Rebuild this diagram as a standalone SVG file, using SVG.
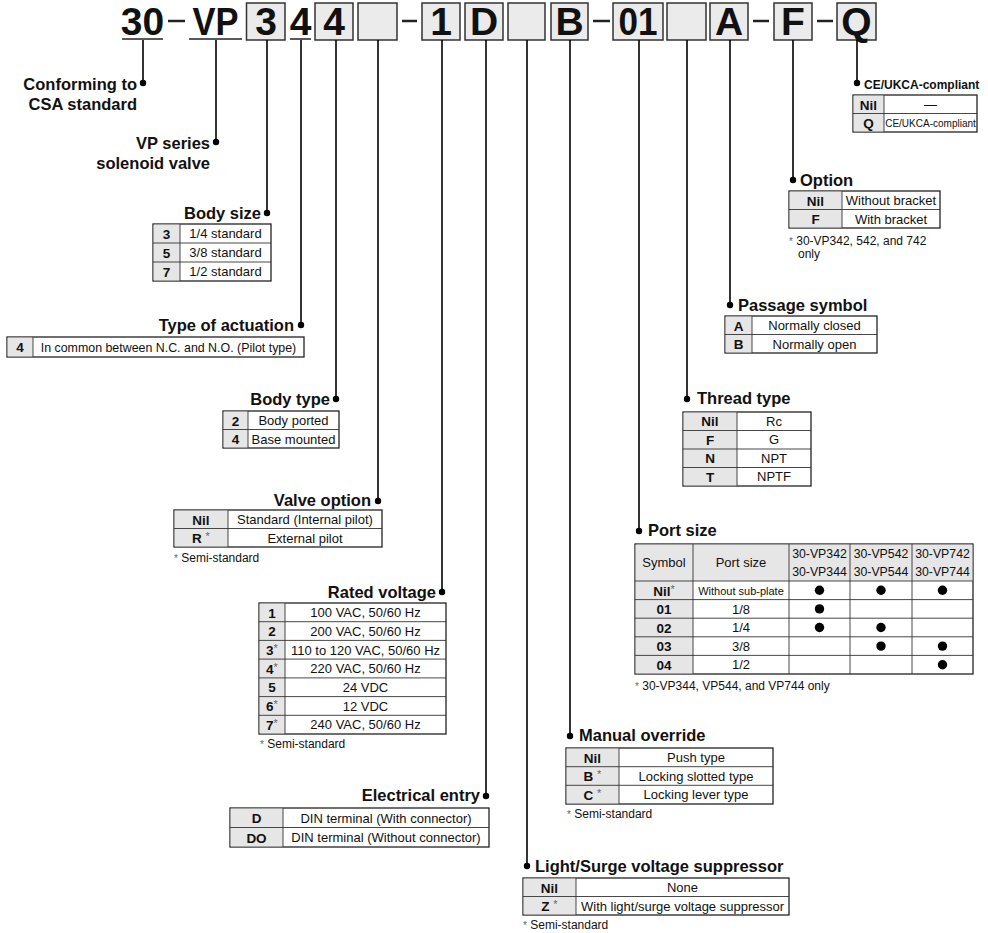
<svg xmlns="http://www.w3.org/2000/svg" width="988" height="933" viewBox="0 0 988 933">
<style>
text{font-family:"Liberation Sans",Arial,Helvetica,sans-serif;fill:#111}
.hd{font-size:39px;font-weight:bold;text-anchor:middle}
.hbox{fill:#ebebeb;stroke:#333;stroke-width:1.5}
.ul{stroke:#222;stroke-width:1.5}
.dash{stroke:#222;stroke-width:2.5}
.conn line{stroke:#000;stroke-width:1.6}
.conn circle{fill:#000}
.ttl{font-size:16.5px;font-weight:bold}
.end{text-anchor:end}
.tb{fill:#fff;stroke:#222;stroke-width:1.3}
.kc{fill:#e6e6e6}
.gl{stroke:#333;stroke-width:0.9}
.k{font-size:13.5px;font-weight:bold;text-anchor:middle}
.v{font-size:13px;text-anchor:middle}
.fn{font-size:12px}
.st{font-size:11px;font-weight:normal;fill:#666}
.dot{fill:#000}
</style>

<g id="header">
<text class="hd" x="142.5" y="35">30</text>
<line class="ul" x1="122" y1="39" x2="163" y2="39"/>
<line class="dash" x1="168" y1="21" x2="185" y2="21"/>
<text class="hd" x="215.5" y="35" textLength="46" lengthAdjust="spacingAndGlyphs">VP</text>
<line class="ul" x1="189" y1="39" x2="242" y2="39"/>
<rect class="hbox" x="246.5" y="3" width="38.5" height="37"/>
<text class="hd" x="266" y="35">3</text>
<text class="hd" x="300.5" y="35">4</text>
<line class="ul" x1="290" y1="39" x2="311" y2="39"/>
<rect class="hbox" x="315" y="3" width="38" height="37"/>
<text class="hd" x="334" y="35">4</text>
<rect class="hbox" x="358" y="3" width="39" height="37"/>
<line class="dash" x1="402" y1="21" x2="417" y2="21"/>
<rect class="hbox" x="422" y="3" width="38" height="37"/>
<text class="hd" x="441" y="35">1</text>
<rect class="hbox" x="465" y="3" width="38" height="37"/>
<text class="hd" x="484" y="35">D</text>
<rect class="hbox" x="508" y="3" width="37" height="37"/>
<rect class="hbox" x="551" y="3" width="37" height="37"/>
<text class="hd" x="569.5" y="35">B</text>
<line class="dash" x1="593" y1="21" x2="610" y2="21"/>
<rect class="hbox" x="613" y="3" width="50" height="37"/>
<text class="hd" x="638" y="35" textLength="39" lengthAdjust="spacingAndGlyphs">01</text>
<rect class="hbox" x="667" y="3" width="39" height="37"/>
<rect class="hbox" x="710" y="3" width="38" height="37"/>
<text class="hd" x="729" y="35">A</text>
<line class="dash" x1="753" y1="21" x2="769" y2="21"/>
<rect class="hbox" x="774" y="3" width="38" height="37"/>
<text class="hd" x="793" y="35">F</text>
<line class="dash" x1="817" y1="21" x2="833" y2="21"/>
<rect class="hbox" x="837" y="3" width="39" height="37"/>
<text class="hd" x="856.5" y="35">Q</text>
</g>

<g id="connectors" class="conn">
<line x1="143" y1="40" x2="143" y2="83"/><circle cx="143" cy="83" r="3.2"/>
<line x1="216" y1="40" x2="216" y2="142"/><circle cx="216" cy="142" r="3.2"/>
<line x1="267" y1="40" x2="267" y2="213"/><circle cx="267" cy="213" r="3.2"/>
<line x1="301" y1="40" x2="301" y2="325"/><circle cx="301" cy="325" r="3.2"/>
<line x1="336" y1="40" x2="336" y2="399"/><circle cx="336" cy="399" r="3.2"/>
<line x1="378" y1="40" x2="378" y2="501"/><circle cx="378" cy="501" r="3.2"/>
<line x1="442" y1="40" x2="442" y2="592"/><circle cx="442" cy="592" r="3.2"/>
<line x1="486" y1="40" x2="486" y2="796"/><circle cx="486" cy="796" r="3.2"/>
<line x1="527" y1="40" x2="527" y2="866"/><circle cx="527" cy="866" r="3.2"/>
<line x1="570" y1="40" x2="570" y2="736"/><circle cx="570" cy="736" r="3.2"/>
<line x1="639" y1="40" x2="639" y2="531"/><circle cx="639" cy="531" r="3.2"/>
<line x1="687" y1="40" x2="687" y2="399"/><circle cx="687" cy="399" r="3.2"/>
<line x1="730" y1="40" x2="730" y2="305"/><circle cx="730" cy="305" r="3.2"/>
<line x1="793" y1="40" x2="793" y2="180"/><circle cx="793" cy="180" r="3.2"/>
<line x1="857" y1="40" x2="857" y2="83"/><circle cx="857" cy="83" r="3.2"/>
</g>

<g id="csa">
<text class="ttl end" x="137" y="90">Conforming to</text>
<text class="ttl end" x="137" y="110">CSA standard</text>
</g>

<g id="vp-series">
<text class="ttl end" x="210" y="149">VP series</text>
<text class="ttl end" x="210" y="169">solenoid valve</text>
</g>

<g id="body-size">
<text class="ttl end" x="261" y="219">Body size</text>
<rect class="tb" x="153" y="224" width="118" height="57"/>
<rect class="kc" x="153.6" y="224.6" width="26.4" height="55.8"/>
<line class="gl" x1="180" y1="224" x2="180" y2="281"/>
<line class="gl" x1="153" y1="243" x2="271" y2="243"/>
<line class="gl" x1="153" y1="262" x2="271" y2="262"/>
<text class="k" x="166.5" y="238.5">3</text><text class="v" x="225.5" y="238">1/4 standard</text>
<text class="k" x="166.5" y="257.5">5</text><text class="v" x="225.5" y="257">3/8 standard</text>
<text class="k" x="166.5" y="276.5">7</text><text class="v" x="225.5" y="276">1/2 standard</text>
</g>

<g id="actuation">
<text class="ttl end" x="294" y="331">Type of actuation</text>
<rect class="tb" x="7" y="337" width="297" height="20"/>
<rect class="kc" x="7.6" y="337.6" width="25.4" height="18.8"/>
<line class="gl" x1="33" y1="337" x2="33" y2="357"/>
<text class="k" x="20" y="352">4</text>
<text class="v" x="168.5" y="351.5" style="font-size:12.4px">In common between N.C. and N.O. (Pilot type)</text>
</g>

<g id="body-type">
<text class="ttl end" x="330" y="405">Body type</text>
<rect class="tb" x="223" y="411" width="116" height="37"/>
<rect class="kc" x="223.6" y="411.6" width="24.4" height="35.8"/>
<line class="gl" x1="248" y1="411" x2="248" y2="448"/>
<line class="gl" x1="223" y1="429.5" x2="339" y2="429.5"/>
<text class="k" x="235.5" y="425.5">2</text><text class="v" x="293.5" y="425">Body ported</text>
<text class="k" x="235.5" y="444">4</text><text class="v" x="293.5" y="443.5">Base mounted</text>
</g>

<g id="valve-option">
<text class="ttl end" x="371" y="506">Valve option</text>
<rect class="tb" x="174" y="510" width="208" height="37"/>
<rect class="kc" x="174.6" y="510.6" width="53.4" height="35.8"/>
<line class="gl" x1="228" y1="510" x2="228" y2="547"/>
<line class="gl" x1="174" y1="528.5" x2="382" y2="528.5"/>
<text class="k" x="201" y="524.5">Nil</text><text class="v" x="305" y="524">Standard (Internal pilot)</text>
<text class="k" x="201" y="543">R <tspan class="st" dy="-3">*</tspan></text><text class="v" x="305" y="542.5">External pilot</text>
<text class="fn" x="174" y="562"><tspan class="st" style="font-size:10px">*</tspan> Semi-standard</text>
</g>

<g id="rated-voltage">
<text class="ttl end" x="436" y="598">Rated voltage</text>
<rect class="tb" x="259" y="603" width="187" height="131"/>
<rect class="kc" x="259.6" y="603.6" width="25.4" height="129.8"/>
<line class="gl" x1="285" y1="603" x2="285" y2="734"/>
<line class="gl" x1="259" y1="621.7" x2="446" y2="621.7"/>
<line class="gl" x1="259" y1="640.4" x2="446" y2="640.4"/>
<line class="gl" x1="259" y1="659.1" x2="446" y2="659.1"/>
<line class="gl" x1="259" y1="677.9" x2="446" y2="677.9"/>
<line class="gl" x1="259" y1="696.6" x2="446" y2="696.6"/>
<line class="gl" x1="259" y1="715.3" x2="446" y2="715.3"/>
<text class="k" x="272" y="617.5">1</text><text class="v" x="365.5" y="617">100 VAC, 50/60 Hz</text>
<text class="k" x="272" y="636">2</text><text class="v" x="365.5" y="635.5">200 VAC, 50/60 Hz</text>
<text class="k" x="272" y="655">3<tspan class="st" dy="-3">*</tspan></text><text class="v" x="365.5" y="654.5">110 to 120 VAC, 50/60 Hz</text>
<text class="k" x="272" y="673.5">4<tspan class="st" dy="-3">*</tspan></text><text class="v" x="365.5" y="673">220 VAC, 50/60 Hz</text>
<text class="k" x="272" y="692">5</text><text class="v" x="365.5" y="691.5">24 VDC</text>
<text class="k" x="272" y="711">6<tspan class="st" dy="-3">*</tspan></text><text class="v" x="365.5" y="710.5">12 VDC</text>
<text class="k" x="272" y="729.5">7<tspan class="st" dy="-3">*</tspan></text><text class="v" x="365.5" y="729">240 VAC, 50/60 Hz</text>
<text class="fn" x="260" y="748"><tspan class="st" style="font-size:10px">*</tspan> Semi-standard</text>
</g>

<g id="electrical-entry">
<text class="ttl end" x="480" y="801">Electrical entry</text>
<rect class="tb" x="230" y="808" width="259" height="39"/>
<rect class="kc" x="230.6" y="808.6" width="52.4" height="37.8"/>
<line class="gl" x1="283" y1="808" x2="283" y2="847"/>
<line class="gl" x1="230" y1="827.5" x2="489" y2="827.5"/>
<text class="k" x="256.5" y="823">D</text><text class="v" x="386" y="822.5">DIN terminal (With connector)</text>
<text class="k" x="256.5" y="842.5">DO</text><text class="v" x="386" y="842">DIN terminal (Without connector)</text>
</g>

<g id="manual-override">
<text class="ttl" x="579" y="741">Manual override</text>
<rect class="tb" x="566" y="748" width="207" height="56"/>
<rect class="kc" x="566.6" y="748.6" width="52.4" height="54.8"/>
<line class="gl" x1="619" y1="748" x2="619" y2="804"/>
<line class="gl" x1="566" y1="766.7" x2="773" y2="766.7"/>
<line class="gl" x1="566" y1="785.3" x2="773" y2="785.3"/>
<text class="k" x="592.5" y="762.5">Nil</text><text class="v" x="696" y="762">Push type</text>
<text class="k" x="592.5" y="781">B <tspan class="st" dy="-3">*</tspan></text><text class="v" x="696" y="780.5">Locking slotted type</text>
<text class="k" x="592.5" y="799.5">C <tspan class="st" dy="-3">*</tspan></text><text class="v" x="696" y="799">Locking lever type</text>
<text class="fn" x="567" y="818"><tspan class="st" style="font-size:10px">*</tspan> Semi-standard</text>
</g>

<g id="light-surge">
<text class="ttl" x="535" y="872">Light/Surge voltage suppressor</text>
<rect class="tb" x="523" y="878" width="266" height="37"/>
<rect class="kc" x="523.6" y="878.6" width="52.4" height="35.8"/>
<line class="gl" x1="576" y1="878" x2="576" y2="915"/>
<line class="gl" x1="523" y1="896.5" x2="789" y2="896.5"/>
<text class="k" x="549.5" y="892.5">Nil</text><text class="v" x="682.5" y="892">None</text>
<text class="k" x="549.5" y="911">Z <tspan class="st" dy="-3">*</tspan></text><text class="v" x="682.5" y="910.5">With light/surge voltage suppressor</text>
<text class="fn" x="523" y="929"><tspan class="st" style="font-size:10px">*</tspan> Semi-standard</text>
</g>

<g id="port-size">
<text class="ttl" x="648" y="536">Port size</text>
<rect class="tb" x="635" y="544" width="338" height="130"/>
<rect class="kc" x="635.6" y="544.6" width="336.8" height="36.4"/>
<rect class="kc" x="635.6" y="581" width="57.4" height="92.4"/>
<line class="gl" x1="693" y1="544" x2="693" y2="674"/>
<line class="gl" x1="789" y1="544" x2="789" y2="674"/>
<line class="gl" x1="850" y1="544" x2="850" y2="674"/>
<line class="gl" x1="912" y1="544" x2="912" y2="674"/>
<line class="gl" x1="635" y1="581" x2="973" y2="581"/>
<line class="gl" x1="635" y1="599.6" x2="973" y2="599.6"/>
<line class="gl" x1="635" y1="618.2" x2="973" y2="618.2"/>
<line class="gl" x1="635" y1="636.8" x2="973" y2="636.8"/>
<line class="gl" x1="635" y1="655.4" x2="973" y2="655.4"/>
<text class="v" x="664" y="567">Symbol</text>
<text class="v" x="741" y="567">Port size</text>
<text class="v" x="819.5" y="558" style="font-size:12.3px">30-VP342</text><text class="v" x="819.5" y="576" style="font-size:12.3px">30-VP344</text>
<text class="v" x="881" y="558" style="font-size:12.3px">30-VP542</text><text class="v" x="881" y="576" style="font-size:12.3px">30-VP544</text>
<text class="v" x="942.5" y="558" style="font-size:12.3px">30-VP742</text><text class="v" x="942.5" y="576" style="font-size:12.3px">30-VP744</text>
<text class="k" x="664" y="595.5">Nil<tspan class="st" dy="-3">*</tspan></text><text class="v" x="741" y="594.5" style="font-size:11px">Without sub-plate</text>
<text class="k" x="664" y="614">01</text><text class="v" x="741" y="613.5">1/8</text>
<text class="k" x="664" y="632.5">02</text><text class="v" x="741" y="632">1/4</text>
<text class="k" x="664" y="651">03</text><text class="v" x="741" y="650.5">3/8</text>
<text class="k" x="664" y="669.5">04</text><text class="v" x="741" y="669">1/2</text>
<circle class="dot" cx="819.5" cy="590.3" r="4.7"/><circle class="dot" cx="881" cy="590.3" r="4.7"/><circle class="dot" cx="942.5" cy="590.3" r="4.7"/>
<circle class="dot" cx="819.5" cy="608.9" r="4.7"/>
<circle class="dot" cx="819.5" cy="627.5" r="4.7"/><circle class="dot" cx="881" cy="627.5" r="4.7"/>
<circle class="dot" cx="881" cy="646.1" r="4.7"/><circle class="dot" cx="942.5" cy="646.1" r="4.7"/>
<circle class="dot" cx="942.5" cy="664.7" r="4.7"/>
<text class="fn" x="635" y="690"><tspan class="st" style="font-size:10px">*</tspan> 30-VP344, VP544, and VP744 only</text>
</g>

<g id="thread-type">
<text class="ttl" x="697" y="404">Thread type</text>
<rect class="tb" x="683" y="412" width="128" height="74"/>
<rect class="kc" x="683.6" y="412.6" width="53.4" height="72.8"/>
<line class="gl" x1="737" y1="412" x2="737" y2="486"/>
<line class="gl" x1="683" y1="430.5" x2="811" y2="430.5"/>
<line class="gl" x1="683" y1="449" x2="811" y2="449"/>
<line class="gl" x1="683" y1="467.5" x2="811" y2="467.5"/>
<text class="k" x="710" y="426">Nil</text><text class="v" x="774" y="425.5">Rc</text>
<text class="k" x="710" y="444.5">F</text><text class="v" x="774" y="444">G</text>
<text class="k" x="710" y="463">N</text><text class="v" x="774" y="462.5">NPT</text>
<text class="k" x="710" y="481.5">T</text><text class="v" x="774" y="481">NPTF</text>
</g>

<g id="passage-symbol">
<text class="ttl" x="738" y="311">Passage symbol</text>
<rect class="tb" x="725" y="316" width="152" height="37"/>
<rect class="kc" x="725.6" y="316.6" width="26.4" height="35.8"/>
<line class="gl" x1="752" y1="316" x2="752" y2="353"/>
<line class="gl" x1="725" y1="334.5" x2="877" y2="334.5"/>
<text class="k" x="738.5" y="330.5">A</text><text class="v" x="814.5" y="330">Normally closed</text>
<text class="k" x="738.5" y="349">B</text><text class="v" x="814.5" y="348.5">Normally open</text>
</g>

<g id="option">
<text class="ttl" x="800" y="186">Option</text>
<rect class="tb" x="789" y="191" width="151" height="37"/>
<rect class="kc" x="789.6" y="191.6" width="52.4" height="35.8"/>
<line class="gl" x1="842" y1="191" x2="842" y2="228"/>
<line class="gl" x1="789" y1="209.5" x2="940" y2="209.5"/>
<text class="k" x="815.5" y="205.5">Nil</text><text class="v" x="891" y="205">Without bracket</text>
<text class="k" x="815.5" y="224">F</text><text class="v" x="891" y="223.5">With bracket</text>
<text class="fn" x="789" y="245"><tspan class="st" style="font-size:10px">*</tspan> 30-VP342, 542, and 742</text>
<text class="fn" x="798" y="258">only</text>
</g>

<g id="ce-ukca">
<text class="ttl" x="864" y="89" style="font-size:12px">CE/UKCA-compliant</text>
<rect class="tb" x="853" y="95" width="124" height="37"/>
<rect class="kc" x="853.6" y="95.6" width="30.4" height="35.8"/>
<line class="gl" x1="884" y1="95" x2="884" y2="132"/>
<line class="gl" x1="853" y1="113.5" x2="977" y2="113.5"/>
<text class="k" x="868.5" y="109.5">Nil</text><text class="v" x="930.5" y="109">—</text>
<text class="k" x="868.5" y="128">Q</text><text class="v" x="930.5" y="127" style="font-size:10px">CE/UKCA-compliant</text>
</g>
</svg>
